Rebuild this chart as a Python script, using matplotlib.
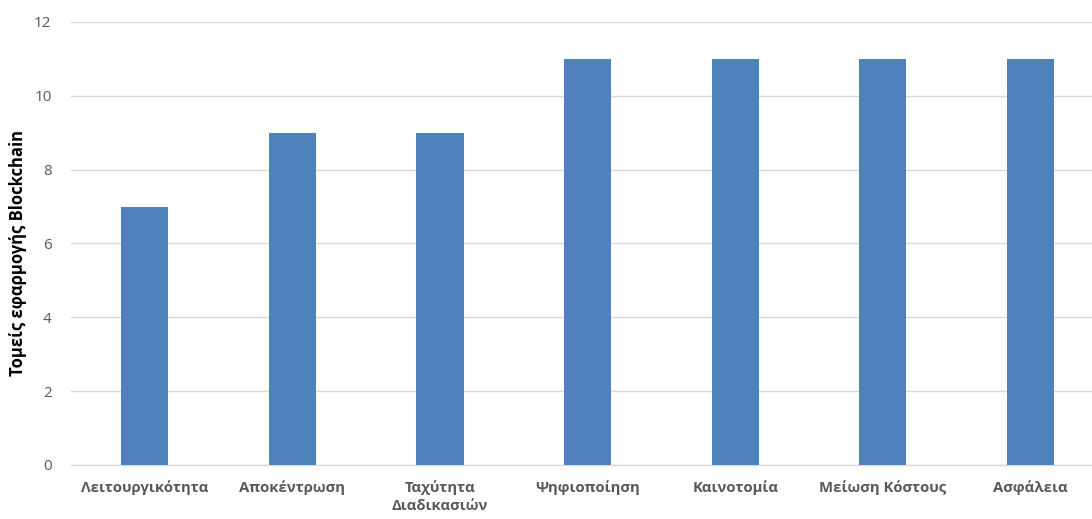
import matplotlib
matplotlib.use("Agg")
import matplotlib.pyplot as plt

categories = ["Λειτουργικότητα", "Αποκέντρωση", "Ταχύτητα\nΔιαδικασιών", "Ψηφιοποίηση",
              "Καινοτομία", "Μείωση Κόστους", "Ασφάλεια"]
values = [7, 9, 9, 11, 11, 11, 11]
y_ticks = [0, 2, 4, 6, 8, 10, 12]
y_label = "Τομείς εφαρμογής Blockchain"

plt.rcParams['font.family'] = ['Open Sans', 'DejaVu Sans']

W, H = 1092, 519
fig = plt.figure(figsize=(W / 100, H / 100), dpi=100)
left, right, bottom, top = 71, 1092, 519 - 465, 519 - 22
ax = fig.add_axes([left / W, bottom / H, (right - left) / W, (top - bottom) / H])

x = list(range(len(categories)))
ax.bar(x, values, width=0.32, color="#4F81BD", zorder=3)

ax.set_ylim(0, 12)
ax.set_yticks(y_ticks)
ax.set_xlim(-0.5, -0.5 + (right - left) / 147.6)
ax.set_xticks(x)
ax.set_xticklabels(categories, fontsize=10.7, fontweight="bold", color="#595959",
                   linespacing=1.35)
ax.tick_params(axis="x", length=0, pad=11)
ax.tick_params(axis="y", length=0, pad=14, labelsize=11, labelcolor="#595959")

ax.grid(axis="y", color="#D9D9D9", linewidth=1, zorder=0)
for s in ["top", "right", "left"]:
    ax.spines[s].set_visible(False)
ax.spines["bottom"].set_color("#D9D9D9")
ax.spines["bottom"].set_linewidth(1)

fig.text(18 / W, (519 - 253) / H, y_label, rotation=90, ha="center", va="center",
         fontsize=12, fontweight="bold", color="black")

fig.savefig("out.png", dpi=100, facecolor="white")
